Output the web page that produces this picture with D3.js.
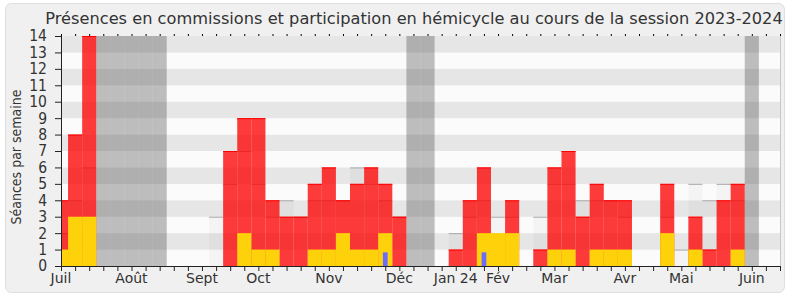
<!DOCTYPE html>
<html>
<head>
<meta charset="utf-8">
<script src="https://cdn.jsdelivr.net/npm/d3@7"></script>
<style>
  html, body { margin: 0; padding: 0; background: #ffffff; }
  svg { display: block; font-family: "DejaVu Sans", Verdana, sans-serif; }
</style>
</head>
<body>
<svg id="chart" width="790" height="300"></svg>
<script>
// ---- Data ----
const title = "Présences en commissions et participation en hémicycle au cours de la session 2023-2024";
const yLabel = "Séances par semaine";
const weeks = d3.range(52);
const monthLabels = ["Juil", "Août", "Sept", "Oct", "Nov", "Déc", "Jan 24", "Fév", "Mar", "Avr", "Mai", "Juin"];
const monthWeeks  = [0, 5, 10, 14, 19, 24, 28, 31, 35, 40, 44, 49];
const yTicks = d3.range(0, 15);
const vacationWeeks = [3, 4, 5, 6, 7, 25, 26, 49];
// présences en commission (rouge)
const commissions = [4, 8, 14, 0, 0, 0, 0, 0, 0, 0, 0, 0, 7, 9, 9, 4, 3, 3, 5, 6, 4, 5, 6, 5, 3, 0,
                     0, 0, 1, 4, 6, 0, 4, 0, 1, 6, 7, 3, 5, 4, 4, 0, 0, 5, 0, 3, 1, 4, 5, 0, 0, 0];
// participation en hémicycle (jaune)
const hemicycle   = [1, 3, 3, 0, 0, 0, 0, 0, 0, 0, 0, 0, 0, 2, 1, 1, 0, 0, 1, 1, 2, 1, 1, 2, 0, 0,
                     0, 0, 0, 0, 2, 2, 2, 0, 0, 1, 1, 0, 1, 1, 1, 0, 0, 2, 0, 1, 0, 0, 1, 0, 0, 0];
// questions orales (bleu)
const questions   = [0, 0, 0, 0, 0, 0, 0, 0, 0, 0, 0, 0, 0, 0, 0, 0, 0, 0, 0, 0, 0, 0, 0, 0.83, 0, 0,
                     0, 0, 0, 0, 0.83, 0, 0, 0, 0, 0, 0, 0, 0, 0, 0, 0, 0, 0, 0, 0, 0, 0, 0, 0, 0, 0];
// médiane des députés (gris)
const mediane     = [2, 4, 6, 0, 0, 0, 0, 0, 0, 0, 0, 3, 5, 7, 5, 3, 4, 3, 4, 4, 4, 6, 5, 4, 3, 0,
                     0, 0, 2, 3, 4, 3, 3, 0, 3, 5, 5, 4, 4, 4, 3, 0, 0, 3, 1, 5, 4, 5, 4, 0, 0, 0];

// ---- Layout ----
const svg = d3.select("#chart");
const pLeft = 61, pRight = 780, pTop = 36, pBottom = 266;

const x = d3.scaleLinear().domain([0, 51]).range([pLeft, pRight]);
const y = d3.scaleLinear().domain([0, 14]).range([pBottom, pTop]);
const step = x(1) - x(0);

// panel
svg.append("rect").attr("x", 5.5).attr("y", 3.5).attr("width", 779).attr("height", 289)
  .attr("rx", 6).attr("fill", "#f0f0f0").attr("stroke", "#dedede");

svg.append("defs").append("clipPath").attr("id", "plotclip")
  .append("rect").attr("x", pLeft).attr("y", pTop).attr("width", pRight - pLeft).attr("height", pBottom - pTop);

const plot = svg.append("g").attr("clip-path", "url(#plotclip)");

// stripes
plot.selectAll("rect.stripe").data(d3.range(0, 14)).join("rect")
  .attr("class", "stripe")
  .attr("x", pLeft).attr("width", pRight - pLeft)
  .attr("y", d => y(d + 1)).attr("height", d => y(d) - y(d + 1))
  .attr("fill", d => d % 2 ? "#e6e6e6" : "#fbfbfb");

// vacations
plot.selectAll("rect.vac").data(vacationWeeks).join("rect")
  .attr("class", "vac")
  .attr("x", d => x(d) - step / 2).attr("width", step)
  .attr("y", pTop).attr("height", pBottom - pTop)
  .attr("fill", "rgba(65,65,65,0.333)");

// median
const medData = weeks.filter(i => mediane[i] > 0);
plot.selectAll("rect.med").data(medData).join("rect")
  .attr("class", "med")
  .attr("x", d => x(d) - step / 2).attr("width", step)
  .attr("y", d => y(mediane[d])).attr("height", d => y(0) - y(mediane[d]))
  .attr("fill", "rgba(0,0,0,0.028)");
plot.selectAll("line.med").data(medData).join("line")
  .attr("class", "med")
  .attr("x1", d => x(d) - step / 2).attr("x2", d => x(d) + step / 2)
  .attr("y1", d => y(mediane[d]) + 0.5).attr("y2", d => y(mediane[d]) + 0.5)
  .attr("stroke", "#a9a9a9").attr("stroke-width", 1);

// commissions (red)
const redData = weeks.filter(i => commissions[i] > 0);
plot.selectAll("rect.red").data(redData).join("rect")
  .attr("class", "red")
  .attr("x", d => x(d) - step / 2).attr("width", step)
  .attr("y", d => y(commissions[d])).attr("height", d => y(0) - y(commissions[d]))
  .attr("fill", "rgba(255,0,0,0.765)");
plot.selectAll("line.red").data(redData).join("line")
  .attr("class", "red")
  .attr("x1", d => x(d) - step / 2).attr("x2", d => x(d) + step / 2)
  .attr("y1", d => y(commissions[d]) + 0.5).attr("y2", d => y(commissions[d]) + 0.5)
  .attr("stroke", "#ff0000").attr("stroke-width", 1);

// hemicycle (yellow)
const yelData = weeks.filter(i => hemicycle[i] > 0);
plot.selectAll("rect.yel").data(yelData).join("rect")
  .attr("class", "yel")
  .attr("x", d => x(d) - step / 2).attr("width", step)
  .attr("y", d => y(hemicycle[d])).attr("height", d => y(0) - y(hemicycle[d]))
  .attr("fill", "#fdd20b");

// questions (blue)
const bluData = weeks.filter(i => questions[i] > 0);
plot.selectAll("rect.blu").data(bluData).join("rect")
  .attr("class", "blu")
  .attr("x", d => x(d) - step / 6).attr("width", step / 3)
  .attr("y", d => y(questions[d])).attr("height", d => y(0) - y(questions[d]))
  .attr("fill", "#6b6bff");

// right border of plot
svg.append("line").attr("x1", pRight + 0.5).attr("x2", pRight + 0.5).attr("y1", pTop).attr("y2", pBottom)
  .attr("stroke", "#c8c8c8");

// axes
const axisColor = "#222";
const textColor = "#333";

const xAxis = svg.append("g").attr("transform", `translate(0,${pBottom})`)
  .call(d3.axisBottom(x).tickValues(weeks).tickSize(5).tickFormat(""));
xAxis.select(".domain").attr("stroke", axisColor).attr("d", `M${pLeft},0.5H${pRight}`);
xAxis.selectAll(".tick line").attr("stroke", axisColor);

const xLab = svg.append("g").attr("font-size", 14).attr("fill", textColor).attr("text-anchor", "middle");
xLab.selectAll("text").data(monthLabels).join("text")
  .attr("x", (d, i) => x(monthWeeks[i]))
  .attr("y", 283)
  .text(d => d);

const topAxis = svg.append("g").attr("transform", `translate(0,${pTop})`)
  .call(d3.axisTop(x).tickValues(weeks).tickSize(2).tickFormat(""));
topAxis.select(".domain").remove();
topAxis.selectAll(".tick line").attr("stroke", "#000");

const yAxis = svg.append("g").attr("transform", `translate(${pLeft},0)`)
  .call(d3.axisLeft(y).tickValues(yTicks).tickSize(6).tickPadding(8).tickFormat(d3.format("d")));
yAxis.select(".domain").attr("stroke", axisColor).attr("d", `M0.5,${pTop}V${pBottom}`);
yAxis.selectAll(".tick line").attr("stroke", axisColor);
yAxis.selectAll(".tick text").attr("font-size", 15.5).attr("fill", textColor)
  .attr("font-family", "'DejaVu Sans Condensed', 'DejaVu Sans', sans-serif")
  .attr("font-stretch", "condensed");

// title
const t = svg.append("text").attr("x", 414).attr("y", 24).attr("text-anchor", "middle")
  .attr("font-size", 16).attr("fill", textColor).text(title);
const tw = t.node().getComputedTextLength();
t.attr("font-size", 16 * 738 / tw);

// y label
svg.append("text").attr("transform", "translate(21,157) rotate(-90)")
  .attr("text-anchor", "middle").attr("font-size", 14).attr("fill", textColor)
  .attr("font-family", "'DejaVu Sans Condensed', 'DejaVu Sans', sans-serif")
  .attr("font-stretch", "condensed")
  .text(yLabel);
</script>
</body>
</html>
